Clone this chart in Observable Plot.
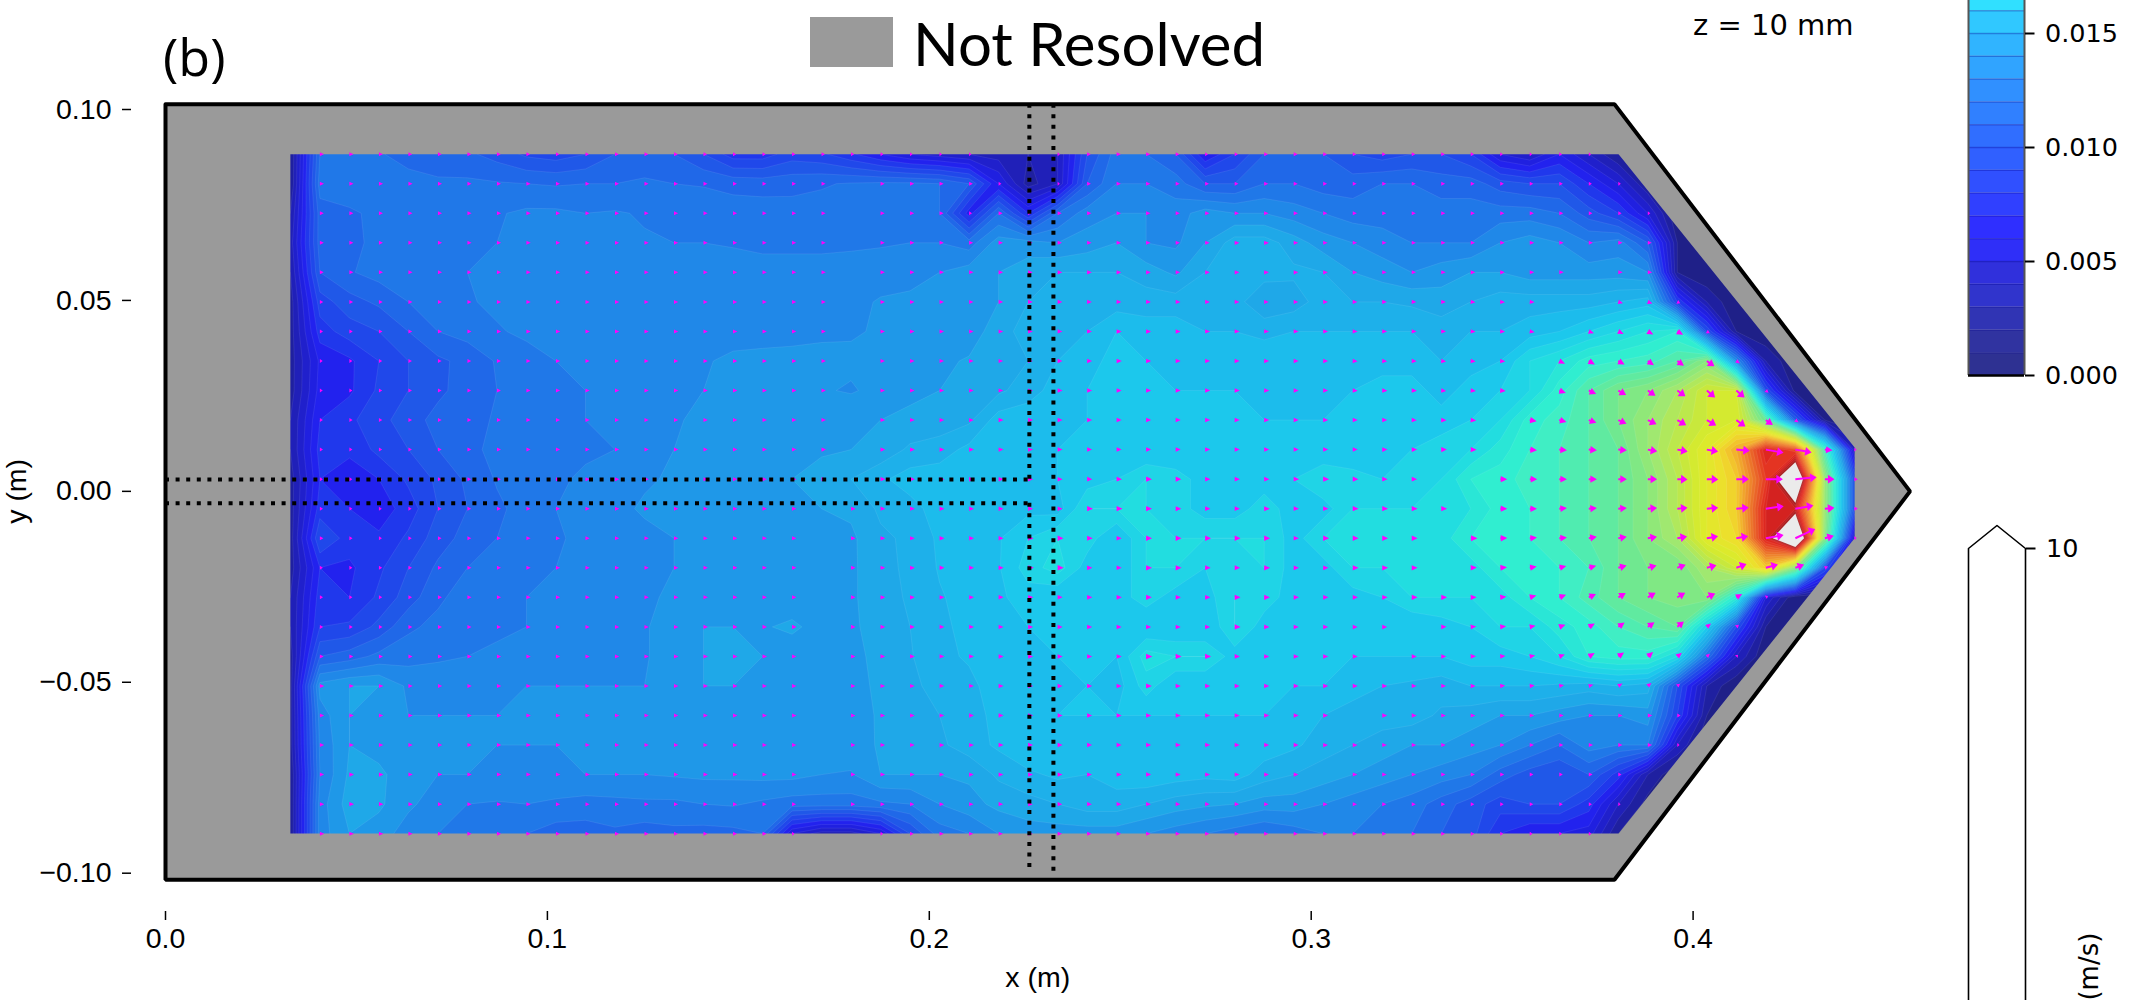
<!DOCTYPE html>
<html><head><meta charset="utf-8">
<script src="https://cdn.jsdelivr.net/npm/d3@7"></script>
<script src="https://cdn.jsdelivr.net/npm/@observablehq/plot@0.6"></script>
<style>
html,body{margin:0;padding:0;background:#fff}
#page{position:relative;width:2156px;height:1000px;overflow:hidden;background:#fff}
#page svg{position:absolute;background:transparent}
.note{position:absolute;white-space:nowrap;line-height:1;color:#000}
</style></head><body>
<div id="page">
  <div class="note" style="left:163px;top:30px;font:52px/1 'Open Sans'">(b)</div>
  <div style="position:absolute;left:810px;top:17px;width:83px;height:50px;background:#9a9a9a"></div>
  <div class="note" style="left:913px;top:13px;font:60px/1 Lato">Not Resolved</div>
  <div class="note" style="left:1693px;top:11px;font:29px/1 'DejaVu Sans'">z = 10 mm</div>
</div>
<script>
// Speed field in mm/s. 24 rows (top to bottom), left part = columns 0..26
const speedLeft = [
[1,10,10.5,10.2,9.2,9,9.2,8.6,7.8,7.5,8,9,9.2,9,8,6.5,6.5,7.5,7.2,6.2,5,4,3.5,3,2.5,2,3],
[1,10.5,10.8,10.9,10.8,10.3,10.2,10.1,10,9.9,10,10,10.2,10,9.9,9.7,9.6,9.7,9.9,10.1,10.2,10.2,10,9,5,1.5,3],
[2,9.5,9.8,10.3,10.5,10.7,10.8,10.9,11.2,11.2,11,11.1,10.9,10.8,10.8,10.5,10.5,10.4,10.4,10.5,10.5,10.2,10,5.5,10,6,10],
[2.5,9.5,9.8,10.2,10.6,10.8,10.9,11,11.2,11.2,11.2,11.1,11.1,11,11,10.9,10.7,10.7,10.7,10.8,10.9,11,11,10.5,12.5,12.5,12],
[2,9,9.9,10.4,10.6,10.8,11,11.2,11.4,11.5,11.5,11.5,11.5,11.5,11.5,11.5,11.5,11.5,11.5,11.5,11.5,11.5,12,12.5,13,13.5,14],
[1.5,7.5,8.6,9.2,10,10.5,10.9,11.2,11.4,11.4,11.5,11.5,11.5,11.5,11.5,11.6,11.6,11.6,11.7,11.7,12.1,12.3,12.2,12,13,14,14.5],
[1.5,6.5,7.5,8,9,10,10.4,10.9,11.2,11.4,11.4,11.5,11.5,11.5,11.5,11.6,11.6,11.6,11.7,11.9,12.1,12.2,12.4,12.5,13.5,14.5,14.8],
[1.5,5.2,5.8,7,8,8.8,9.3,10.1,10.6,11,11,11.2,11.4,11.6,11.9,12.2,12.3,12.4,12.5,12.2,12.3,12.6,12.8,13.1,13.5,14,15],
[1.5,5.4,5.8,7.2,8,8.8,9.4,10,10.3,10.6,11,11.3,11.6,11.8,12,12.2,12.4,12.3,12.1,11.9,12.3,12.8,13,13.3,13.8,14.5,15.5],
[2,6,6.8,7.6,8.6,9.3,9.7,10.1,10.5,10.8,11,11.3,11.6,11.9,12.2,12.4,12.5,12.6,12.7,12.8,13,13.2,13.4,13.8,15.5,15.7,15.8],
[2,6.4,6.2,7.3,8,9,9.8,10.2,10.5,10.8,10.9,11,11.2,12,12.3,12.5,12.6,12.7,12.9,13,13.3,14.2,14.5,15.3,15.6,15.8,16],
[1.5,6,5.5,6,7.2,8.2,9.2,10.1,10.7,10.9,11.1,11.4,11.9,12.1,12.3,12.5,12.8,13,13.3,14,14.8,15.5,15.6,15.8,16,15.8,16],
[1.5,6.5,6,5.4,6.5,8,9,9.8,10.4,11,11.3,11.8,12.1,12.2,12.3,12.5,12.6,12.8,13,13.2,14.2,14.6,15.5,15.7,16,15.7,15.5],
[1.5,8,6.5,6.2,7.2,8.5,9.4,10,10.6,10.9,11.2,11.5,11.8,12,12.2,12.3,12.4,12.5,12.6,12.8,13.8,14.2,15.2,15.6,15.9,17,18],
[1.5,6,5.8,6.8,8,9.2,10,10.2,10.6,11,11.3,11.5,11.7,12,12.3,12.3,12.4,12.5,12.6,12.8,13.7,14.2,15.1,15.5,15.9,17.5,18.5],
[2,6.5,6,7.2,8.5,9.8,10.5,10.8,11,11.2,11.5,11.8,11.8,12.2,12.9,12.7,12.5,12.4,12.5,12.8,13.7,14.1,14.9,15.4,15.8,16.5,16],
[2,7,7.2,8.3,9.8,10.3,10.5,10.9,11,11.3,11.6,11.8,11.9,12.5,13,13,12.9,13.2,12.6,12.7,13.7,14,14.7,15.4,15.6,16,16],
[1.5,9,9.5,10.3,10.6,10.8,11,11.1,11.3,11.5,11.6,11.7,11.9,12.5,13,13,13,12.4,12.4,12.5,13.5,13.9,14.8,15.1,15.5,15.8,16],
[1.5,12.4,13,13,11.8,11.8,11.9,11.9,12,12,12,12,12,12.4,13,13,12.1,12,12,12.3,13.4,13.8,14.3,14.8,15.4,15.7,15.9],
[1.5,11.5,13,12,12,12,12,12,12,12,12,12,12,12,12,12,12,12,12,12.3,13.2,13.6,14,14.6,15.3,15.8,16],
[1.5,11.2,13,12.5,12,12,12,12,12,12,12,12,12,12,12,12,12,12,12.3,12.6,13.1,13.4,13.8,14.5,15.2,15.9,15.8],
[1,11,13.2,13.3,12.2,12,12,11.9,11.9,11.9,12,12,12,12.1,12.2,12.2,12.3,12.3,12,11.9,13,13,13,13.2,14.2,14.8,15.2],
[1,11.5,13.5,13.2,12.2,11.5,11,10.9,11,10.8,10.6,10.7,10.8,10.8,11,11.1,10.8,10.5,10.5,10.5,10.8,11,12,12.6,13.3,13.6,14],
[1,11.5,13,12.5,11.5,11,10.5,10.5,10,9.5,9.5,9.8,9.5,9.7,9.6,9.7,10,4,2.5,2.5,4,8,10.5,11,12,12.5,12.5]
];
// Same rows, right part = columns 27..53
const speedRight = [
[8,10.5,10,9,5,7,9,9.5,9,8,7.5,8,8,7,4,3,5,3,1,0,0,0,0,0,0,0,0],
[9,11,11,10.5,9,9,10,10,9.5,9.5,10,10,9.5,9.5,8.5,8,8,6,4,1,0,0,0,0,0,0,0],
[11.5,12,12,11.5,12.5,12,12,11.5,11,10.5,10.5,10.5,10.5,10.5,10.5,10.5,10,8.5,7,4,0,0,0,0,0,0,0],
[12.5,13,12,11.8,13,14.5,14.5,13.5,12.5,12,11.5,11,11,11,12,12.5,12,11,11.5,9,1,0,0,0,0,0,0],
[14,14,13.5,12.8,14,14.5,14.5,14.2,14,13,12.5,12,12.5,13,13,12.5,12.5,12.5,12.5,12,1,0,0,0,0,0,0],
[14.5,14.5,14.5,14.5,14.5,14.5,13,13.5,14.5,14,14,13.8,13.5,14,14.5,14.5,14.5,14.5,15,15.5,7,2,0,0,0,0,0],
[15,16,15.5,15.5,15,15,14.8,15,15,15,15,15,14.5,15,15,15.5,16,17,18,19,20,8,1,0,0,0,0],
[15.5,16.5,16,15.8,15.5,15.5,15.5,15.5,15.5,15.5,15.5,15.5,15,15.5,16,18,19,20.5,21,21.5,23,26,12,2,0,0,0],
[16,16,16,16,16,16,15.8,15.5,15.3,16,16.5,16.5,15.5,16.5,17,18,20.5,23,25,26,28,31,31,8,0.5,0,0],
[16,16,16,16,16,16,16,16,16,16,16,16,16.5,17,18,20.5,21.5,23,25,27,29,31,32,24,9,1,0],
[16,16,16,16,16,16,16,16,16,16,16.5,17,17.5,18,19.5,21,22,23,24,27,30,33,38,47,44,22,3],
[16.5,17,18,17.5,16.5,16.5,16.5,17,18,17.5,17,17,18,20,20.5,21.5,22,23,24,26,29,33,36,45,58,27,8],
[18,18,18,17.5,16.5,16.5,17.5,16.5,16.5,18,18,18,18,19,20.5,21,22,23,24,26,29,33,36,47,48,27,8],
[17.5,16,18,18,18,18,18,16.5,18,18,18,18,18.5,20,20.5,21,22,23,24,26,28,33,35,47,60,26,3],
[16.5,16,18,18,17,17,18,16.5,16.5,18,18,18,18,18.5,20,20.5,21,22,24,25,25,28,31,36,26,8,0],
[16.5,16.5,17.5,16.5,16.5,18,17.5,16.5,16.5,16.5,17,18,18,18,18.5,20,21,22.5,24,25,25.5,26,20,4,0,0,0],
[16,16,16,16,16,18,16.5,16,16,16,16,16,16.5,17,18,18,19.5,20.5,22,23,24,17,8,1,0,0,0],
[16,16,18.5,18,18,16.5,16,16,16,16,16,16,16,16.5,16.5,17,18,20,20.5,20.5,18,10,3,0,0,0,0],
[16,15.5,17.5,16,16,16,16,16,16,15.5,15,14.8,14.5,15,15,15,14.8,14.5,15,14.5,8,2,0,0,0,0,0],
[16,16,16,16,16,16,16,15.8,15,14.5,14.5,14.5,13.8,13.5,13,13,12.5,12,12,12.5,7,1,0,0,0,0,0],
[15.8,15.8,15.8,15.8,15.8,15.8,15.6,15.2,14.5,14,13.5,13,13,12.5,12,11,10,11.5,11,11,3,0,0,0,0,0,0],
[15,15.5,15.8,15.5,15.3,15.5,14.5,14,13.5,13,12.5,12,11.5,11,9.5,8.5,8,9,6.5,2,0,0,0,0,0,0,0],
[14.5,14.5,14,13.5,13.2,13,12.5,12.5,12,11.5,11,10.5,9.5,8.5,7.5,8,8,6.5,3,0.5,0,0,0,0,0,0,0],
[12.5,12.5,12,11.5,11,10.5,10,10.5,11,11,10.5,10,9,8.5,6,5,5,4.5,1,0,0,0,0,0,0,0,0]
];
// Arrow direction (degrees clockwise from north) for columns 36..53, rows 5..18; everything else points along +x
const angleRows = [
[92,92,92,92,95,95,95,100,100,105,110,115,115,115,115,115,115,115],
[92,92,92,92,95,95,100,105,110,115,120,120,120,120,120,120,120,120],
[92,92,92,95,95,95,100,115,120,120,125,125,125,125,125,125,125,125],
[92,92,92,95,95,95,100,110,115,120,125,125,130,130,130,130,130,130],
[90,90,92,92,95,95,100,105,110,115,115,120,120,125,125,125,125,125],
[90,90,90,90,92,92,95,95,95,95,100,100,100,95,100,100,95,95],
[90,90,90,90,90,90,90,90,90,90,90,92,92,90,90,85,90,90],
[90,90,90,90,90,90,90,85,85,85,85,85,85,85,82,80,85,85],
[90,90,90,90,90,88,85,85,80,80,80,80,80,80,80,65,75,75],
[90,90,90,90,88,85,80,75,75,75,75,70,75,70,75,70,70,70],
[90,90,90,90,88,85,75,70,65,60,60,60,65,60,60,60,60,60],
[90,90,90,88,85,85,80,70,60,55,55,50,50,50,50,50,50,50],
[90,90,90,90,88,85,80,70,60,55,50,50,50,50,50,50,50,50],
[90,90,90,90,90,85,85,80,75,60,50,50,50,50,50,50,50,50]
];
const angleFirstRow = 5, angleFirstCol = 36, angleDefault = 90;
// Grid points where the picture shows no arrow
const missingArrowRow = [1,2,3,4,5,6,7,8,9,10,11,12,13,14,15,16,17,18,19,20,21,22,23, 5,5,6,7,8,9,10,11,11,12,13,14,16,17,19,21,4];
const missingArrowCol = [19,19,19,19,19,19,19,19,19,19,19,18,18,18,18,18,18,18,18,18,18,18,18, 43,44,43,42,42,41,41,39,40,40,39,39,38,37,36,35,44];

// Grid geometry (m)
const gridCols = 54, gridRows = 24, gridLeft = 0.0327, gridTop = 0.0883, gridDx = 0.007727, gridDy = 0.007737;

// Band colours
const fieldLevels = d3.range(0, 51);
const fieldColors = ["#1f2088","#1f20a0","#2020b8","#2020cc","#2020e0","#2222ee","#2038ec","#2048ea","#2058e8","#2068e8","#2078e8","#2088e8","#1f98e8","#1fa8e8","#1eb0ea","#1cbcec","#1cc8ec","#20d4e6","#22dde0","#2ae6d6","#30eed0","#40eec4","#50ecb0","#60eaa0","#70e890","#80e884","#90e878","#a0e870","#b0e85c","#bce84c","#c8e83c","#d4ea30","#dcea2c","#e4e62c","#ece02c","#f0d42c","#f2c42c","#f2b42c","#f0a42c","#f0942c","#ee842c","#ec742a","#ea6428","#e85426","#e64424","#e43422","#de2820","#d42220","#c02020","#a82020","#ebebeb"];
const barLevels = d3.range(0, 17);
const barColors = ["#2e3192","#3033a0","#3034b4","#3034cc","#3030dc","#2f2ff8","#2f2fff","#3040ff","#3050ff","#3060ff","#306eff","#3080ff","#3090ff","#30a4ff","#30b4ff","#30c8ff","#30e0ff"];

// Ticks
const xTicks = [0, 0.1, 0.2, 0.3, 0.4];
const yTicks = [-0.10, -0.05, 0, 0.05, 0.10];
const barTicks = [0, 0.005, 0.010, 0.015];
const keyTicks = [10];

// Outline of the vessel and of the resolved region (m)
const frameX = [0, 0.3794, 0.4568, 0.3794, 0, 0];
const frameY = [0.1014, 0.1014, 0, -0.1017, -0.1017, 0.1014];
const holeX = [0.0327, 0.0327, 0.3805, 0.4423, 0.4423, 0.3805, 0.0327];
const holeY = [0.0883, -0.0896, -0.0896, -0.0123, 0.0115, 0.0883, 0.0883];
const outsideX = [0.3794, 0.4568, 0.3794, 0.475, 0.475];
const outsideY = [0.1014, 0, -0.1017, -0.1017, 0.1014];
const duct = {xa: 0.2262, xb: 0.2325, yu: 0.0031, yl: -0.0031, top: 0.1014, bottom: -0.1000};

speedLeft.forEach((r,i)=>{ if(r.length!==27) throw new Error("left row "+i+" has "+r.length); });
speedRight.forEach((r,i)=>{ if(r.length!==27) throw new Error("right row "+i+" has "+r.length); });
const speedGrid = speedLeft.map((r,i)=>[...r, ...speedRight[i]]);
const missing = new Set(missingArrowRow.map((r,i)=>r+":"+missingArrowCol[i]));
const arrows = [];
speedGrid.forEach((row,r)=>row.forEach((s,c)=>{
  if (c===0 || s<3 || missing.has(r+":"+c)) return;
  const aRow = angleRows[r-angleFirstRow];
  const angle = aRow && c>=angleFirstCol ? aRow[c-angleFirstCol] : angleDefault;
  arrows.push({x:gridLeft+c*gridDx, y:gridTop-r*gridDy, s, angle});
}));
const maskPts = [...frameX.map((x,i)=>({x,y:frameY[i]})), ...holeX.map((x,i)=>({x,y:holeY[i]})), {x:frameX[0],y:frameY[0]}];
const framePts = frameX.map((x,i)=>({x,y:frameY[i]}));
const outsidePts = outsideX.map((x,i)=>({x,y:outsideY[i]}));

const quiver = {draw(ctx,l){
  const head=Math.min(l,6.5), w=Math.max(2,Math.min(4.5,l*0.45)), sh=1;
  ctx.moveTo(0,-l); ctx.lineTo(w,-l+head);
  if(l>head){ctx.lineTo(sh,-l+head);ctx.lineTo(sh,0);ctx.lineTo(-sh,0);ctx.lineTo(-sh,-l+head);}
  ctx.lineTo(-w,-l+head); ctx.closePath();
}};
const dots = {stroke:"#000", strokeWidth:4, strokeDasharray:"4 6.6"};
const sans = "Liberation Sans";

const main = Plot.plot({
  width:1950, height:1000, marginLeft:131, marginRight:0, marginTop:0, marginBottom:89,
  style:{left:"0px",top:"0px",background:"transparent"},
  x:{domain:[0,0.4], range:[165,1692.6]},
  y:{domain:[-0.1,0.1], range:[872.7,109]},
  color:{type:"linear", domain:fieldLevels, range:fieldColors},
  length:{type:"linear", domain:[0,10,16,25,35,47,60], range:[1.5,4,5,9,12,18,22]},
  marks:[
    Plot.contour(speedGrid.flat(), {
      width:gridCols, height:gridRows,
      x1:gridLeft-gridDx/2, x2:gridLeft+(gridCols-0.5)*gridDx,
      y1:gridTop+gridDy/2, y2:gridTop-(gridRows-0.5)*gridDy,
      fill:Plot.identity, thresholds:fieldLevels,
      stroke:"#fff", strokeOpacity:0.14, strokeWidth:0.6
    }),
    Plot.line(maskPts,{x:"x",y:"y",fill:"#9a9a9a",stroke:"none"}),
    Plot.line(outsidePts,{x:"x",y:"y",fill:"#fff",stroke:"none"}),
    Plot.vector(arrows,{x:"x",y:"y",length:"s",rotate:"angle",anchor:"start",shape:quiver,fill:"#ff00ff",stroke:"none"}),
    Plot.ruleX([duct.xb],{y1:duct.top,y2:duct.bottom,...dots}),
    Plot.ruleX([duct.xa],{y1:duct.top,y2:duct.yu,...dots}),
    Plot.ruleX([duct.xa],{y1:duct.yl,y2:duct.bottom,...dots}),
    Plot.ruleY([duct.yu,duct.yl],{x1:0,x2:duct.xa,...dots}),
    Plot.line(framePts,{x:"x",y:"y",stroke:"#000",strokeWidth:4,strokeLinejoin:"miter"}),
    Plot.axisX({ticks:xTicks, tickFormat:d3.format(".1f"), tickSize:9, tickPadding:7, fontSize:28.5, fontFamily:sans, label:null, strokeWidth:1.5}),
    Plot.axisY({ticks:yTicks, tickFormat:d3.format(".2f"), tickSize:9, tickPadding:11, fontSize:28.5, fontFamily:sans, label:null, strokeWidth:1.5}),
    Plot.text(["x (m)"],{x:[0.2284],y:[-0.1275],fontSize:28.5,fontFamily:sans,fill:"#000"}),
    Plot.text(["y (m)"],{x:[-0.0388],y:[0],rotate:-90,fontSize:28.5,fontFamily:sans,fill:"#000"})
  ]
});

const cbar = Plot.plot({
  width:216, height:400, marginLeft:28, marginRight:132, marginTop:0, marginBottom:20,
  style:{left:"1940px",top:"0px",background:"transparent"},
  x:{domain:[0,1], range:[28,84], axis:null},
  y:{domain:[0,0.015], range:[375,33]},
  marks:[
    Plot.rect(barLevels,{x1:0,x2:1,y1:d=>d/1000,y2:d=>(d+1)/1000,fill:d=>barColors[d],stroke:"none"}),
    Plot.ruleY(barLevels.slice(1).map(d=>d/1000),{x1:0,x2:1,stroke:"#00008b",strokeOpacity:0.3,strokeWidth:1.5}),
    Plot.ruleX([0,1],{y1:0,y2:0.0172,stroke:"#555",strokeWidth:2}),
    Plot.ruleY([0],{x1:0,x2:1,stroke:"#000",strokeWidth:2.5}),
    Plot.axisY({anchor:"right",ticks:barTicks,tickFormat:d3.format(".3f"),tickSize:9.5,tickPadding:11,fontSize:25.5,fontFamily:"DejaVu Sans",label:null,strokeWidth:2})
  ]
});

const keyX = [0,0,0.5,1,1], keyY = [0,10,10.5,10,0];
const key = Plot.plot({
  width:216, height:620, marginLeft:28, marginRight:131, marginTop:0, marginBottom:0,
  style:{left:"1940px",top:"380px",background:"transparent"},
  x:{domain:[0,1], range:[28,85], axis:null},
  y:{domain:[0,10.5], range:[628,145]},
  marks:[
    Plot.line(keyX.map((x,i)=>({x,y:keyY[i]})),{x:"x",y:"y",fill:"#fff",stroke:"#000",strokeWidth:1.6}),
    Plot.axisY({anchor:"right",ticks:keyTicks,tickFormat:d3.format("d"),tickSize:9.5,tickPadding:11,fontSize:25.5,fontFamily:"DejaVu Sans",label:null,strokeWidth:2}),
    Plot.text(["(m/s)"],{x:[2.12],y:[0.91],rotate:-90,fontSize:26,fontFamily:"DejaVu Sans",fill:"#000"})
  ]
});
const page = document.getElementById("page");
page.append(main, cbar, key);
</script>
</body></html>
